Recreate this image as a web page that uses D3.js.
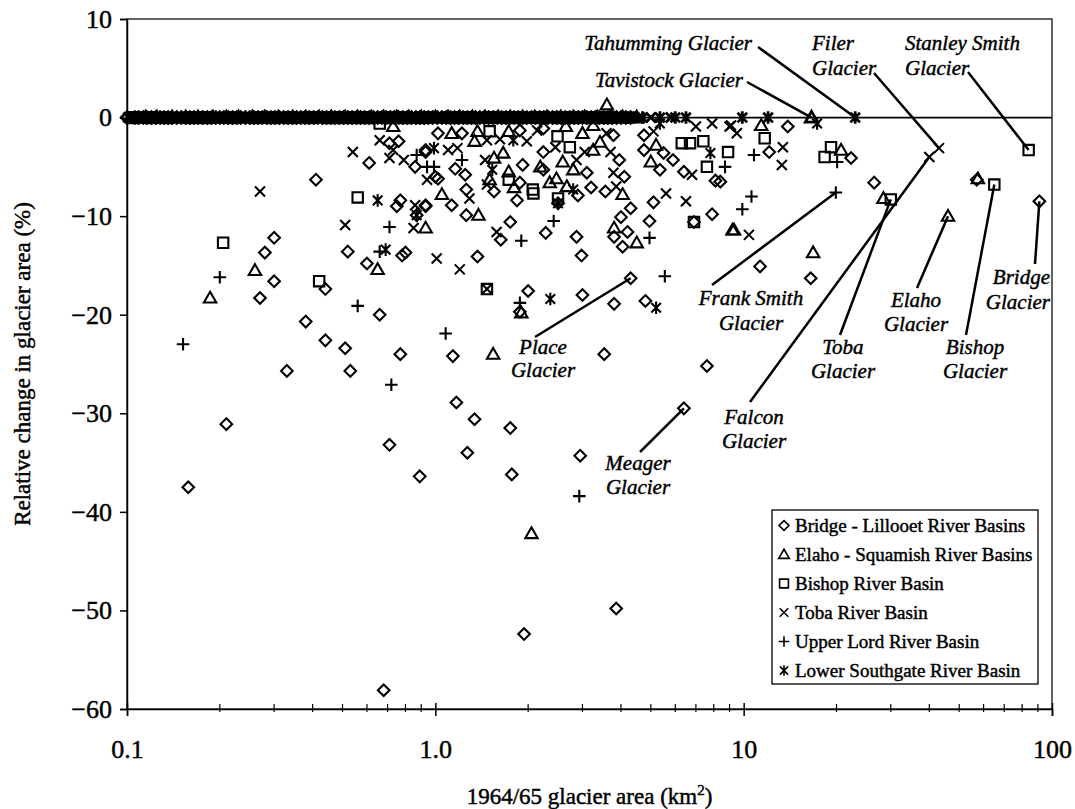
<!DOCTYPE html>
<html><head><meta charset="utf-8">
<script src="https://cdn.jsdelivr.net/npm/d3@7"></script>
<style>body{margin:0;background:#fff}</style>
</head><body>
<svg id="c" width="1075" height="809"></svg>
<script>
// ---------- DATA ----------
const xTicks = [0.1, 1, 10, 100];
const xTickLabels = ["0.1", "1.0", "10", "100"];
const xMinorTicks = [0.2,0.3,0.4,0.5,0.6,0.7,0.8,0.9,2,3,4,5,6,7,8,9,20,30,40,50,60,70,80,90];
const yTicks = [10, 0, -10, -20, -30, -40, -50, -60];
const seriesNames = ["Bridge - Lillooet River Basins","Elaho - Squamish River Basins","Bishop River Basin","Toba River Basin","Upper Lord River Basin","Lower Southgate River Basin"];

// glaciers with no change (area km2, 0 %)
const bridgeZero = [0.1,0.106,0.113,0.12,0.128,0.136,0.145,0.155,0.165,0.176,0.188,0.2,0.213,0.227,0.242,0.258,0.275,0.293,0.312,0.333,0.355,0.378,0.403,0.43,0.458,0.488,0.52,0.555,0.59,0.63,0.67,0.715,0.76,0.81,0.865,0.92,0.98,1.05,1.12,1.19,1.27,1.35,1.44,1.54,1.64,1.75,1.86,1.98,2.11,2.25,2.4,2.56,2.73,2.91,3.1,3.3,3.52,3.75,4.0,4.3,
  0.109,0.116,0.124,0.132,0.14,0.15,0.16,0.17,0.182,0.194,0.206,0.22,0.234,0.25,0.266,0.284,0.302,0.322,0.344,0.366,0.39,0.416,0.444,0.472,0.504,0.537,0.572,0.61,0.65,0.692,0.737,0.785,0.837,0.892,0.95,1.015,1.085,1.155,1.23,1.31,1.395,1.49,1.59,1.695,1.8,1.92,2.05,2.18,2.32,2.48,2.64,2.82,3.0,3.2,3.4,3.63,3.87,4.15];
const elahoZero = [0.115,0.14,0.17,0.21,0.255,0.31,0.38,0.46,0.56,0.68,0.82,1.0,1.2,1.45,1.75,2.1,2.55,3.05,3.7,4.5,16.6,
  0.125,0.155,0.19,0.23,0.28,0.345,0.42,0.51,0.62,0.75,0.9,1.1,1.32,1.6,1.92,2.3,2.8,3.35,4.05];
const bishopZero = [0.12,0.18,0.26,0.39,0.54,0.8,1.15,1.7,2.5,3.6,
  0.105,0.135,0.16,0.22,0.3,0.34,0.45,0.49,0.6,0.7,0.9,1.3,1.5,1.9,2.2,2.8,3.2];
const tobaZero = [0.108,0.121,0.138,0.152,0.168,0.185,0.204,0.224,0.246,0.27,0.297,0.327,0.36,0.395,0.435,0.478,0.526,0.578,0.636,0.7,0.77,0.845,0.93,1.02,1.12,1.23,1.36,1.5,1.65,1.81,1.99,2.19,2.41,2.65,2.92,3.2,3.52,3.9,4.6,5.0,5.8,
  0.101,0.114,0.129,0.145,0.16,0.176,0.194,0.214,0.235,0.258,0.283,0.311,0.343,0.377,0.415,0.456,0.502,0.552,0.607,0.667,0.734,0.807,0.887,0.975,1.07,1.18,1.29,1.42,1.57,1.72,1.9,2.08,2.29,2.52,2.78,3.06,3.36,3.7,4.07];
const lordZero = [0.13,0.16,0.19,0.23,0.28,0.34,0.41,0.5,0.6,0.73,0.88,1.07,1.3,1.58,1.92,2.33,2.85,3.45,4.2,
  0.111,0.145,0.175,0.21,0.255,0.31,0.375,0.455,0.55,0.66,0.8,0.97,1.18,1.43,1.74,2.1,2.58,3.1,3.8];
const southgateZero = [0.103,0.11,0.117,0.124,0.132,0.141,0.15,0.16,0.17,0.181,0.193,0.206,0.22,0.234,0.25,0.266,0.284,0.302,0.322,0.343,0.366,0.39,0.415,0.443,0.472,0.503,0.536,0.571,0.608,0.648,0.69,0.736,0.784,0.835,0.89,0.95,1.01,1.08,1.15,1.22,1.3,1.39,1.48,1.58,1.68,1.79,1.91,2.03,2.17,2.31,2.46,2.62,2.8,2.98,3.18,3.39,3.6,3.85,4.1,4.4,4.7,5.35,6.0,6.5,9.9,12.0,23.0];

// glaciers with change [area km2, relative change %]
const bridge = [[0.71,-2.6],[0.76,-2.4],[0.61,-4.6],[0.86,-5.0],[0.93,-3.5],[1.0,-6.0],[0.41,-6.3],[0.77,-8.4],[0.75,-9.0],[0.93,-9.0],[0.87,-9.9],[0.30,-12.2],[0.28,-13.7],[0.52,-13.6],[0.78,-14.0],[0.80,-13.7],[0.60,-14.8],[0.30,-16.6],[0.44,-17.4],[0.27,-18.3],
 [0.66,-20.0],[0.38,-20.7],[0.44,-22.6],[0.51,-23.4],[0.77,-24.0],[0.33,-25.7],[0.53,-25.7],[0.21,-31.1],[0.71,-33.2],[0.158,-37.5],[0.89,-36.4],[0.68,-58.1],[3.86,-49.8],[1.94,-52.4],
 [1.88,-19.7],[3.0,-18.0],[3.8,-18.9],[4.8,-18.6],[1.14,-24.2],[3.53,-24.0],[7.6,-25.2],[1.17,-28.9],[1.34,-30.6],[1.75,-31.5],[6.4,-29.5],[1.27,-34.0],[1.77,-36.2],[2.95,-34.3],[4.3,-16.3],
 [1.02,-1.6],[1.22,-1.6],[1.88,-1.3],[2.24,-1.1],[3.78,-1.8],[4.75,-1.8],[4.75,-3.3],[5.35,-5.3],[5.9,-4.3],[5.5,-3.6],[6.4,-5.5],[5.1,-8.6],[7.9,-9.8],[6.9,-10.6],[4.95,-10.5],[4.3,-9.2],[4.0,-10.1],[4.2,-11.6],[3.8,-12.1],[4.05,-13.1],[3.95,-4.3],[4.1,-6.0],[3.56,-7.5],[3.2,-7.1],[2.87,-12.1],[2.98,-14.0],[2.9,-7.9],[2.5,-8.7],[2.28,-11.7],[3.1,-5.6],[2.24,-5.3],[1.92,-4.8],[1.84,-8.4],[1.88,-6.6],[1.75,-10.6],[1.63,-12.4],[1.55,-7.5],[1.37,-14.1],[1.26,-9.9],[1.26,-7.3],[1.13,-8.9],[1.16,-5.2],[1.25,-5.8],[1.02,-6.2],[0.93,-8.9],[0.93,-3.3],[2.24,-3.5],[2.0,-17.6],[8.1,-6.4],
 [26.5,-6.6],[16.5,-16.3],[11.3,-15.1],[22.3,-4.1],[13.9,-0.9],[12.1,-3.5],[8.4,-6.5],[57,-6.3],[91,-8.5]];
const elaho = [[0.73,-0.9],[0.93,-11.2],[0.65,-15.4],[0.26,-15.5],[0.186,-18.3],[1.90,-19.8],[1.54,-24.0],[2.05,-42.2],[3.6,1.3],[1.13,-1.6],[1.37,-1.4],[1.73,-1.4],[2.65,-0.9],[3.0,-1.6],[3.25,-0.8],[3.42,-2.5],[5.2,-2.8],[5.0,-4.5],[9.3,-11.4],[4.5,-12.7],[3.8,-11.2],[4.05,-7.8],[2.67,-7.0],[2.35,-6.6],[2.47,-6.2],[2.8,-5.3],[2.59,-4.5],[3.25,-3.3],[2.19,-5.0],[1.73,-5.5],[1.8,-7.1],[1.5,-6.3],[1.55,-4.1],[1.66,-3.6],[1.38,-9.9],[1.05,-7.8],[1.34,-2.4],[28.4,-8.2],[16.8,-13.7],[9.2,-11.4],[20.7,-3.3],[11.4,-0.8],[46,-10.0],[57.5,-6.2]];
const bishop = [[0.66,-0.6],[0.56,-8.1],[0.205,-12.7],[0.42,-16.6],[1.47,-17.4],[1.5,-1.4],[2.49,-1.9],[6.3,-2.6],[6.7,-2.6],[7.4,-2.4],[8.9,-3.5],[7.6,-5.0],[6.9,-10.6],[2.07,-7.3],[2.08,-7.7],[1.73,-6.3],[2.5,-8.2],[2.73,-3.0],[19.2,-3.0],[18.3,-4.0],[11.7,-2.1],[30,-8.3],[65,-6.8],[84,-3.3]];
const toba = [[0.54,-3.5],[0.66,-2.3],[0.73,-3.3],[0.71,-4.1],[0.79,-4.3],[0.94,-6.3],[0.27,-7.5],[0.86,-8.9],[0.51,-10.9],[0.85,-11.2],[1.01,-14.3],[1.47,-17.4],[2.14,-1.3],[3.59,-1.6],[5.1,-1.4],[7.0,-0.9],[7.9,-0.6],[9.0,-0.9],[6.8,-5.8],[5.6,-7.7],[6.5,-8.5],[3.78,-5.6],[3.86,-7.0],[2.87,-4.3],[3.05,-3.5],[3.7,-3.5],[1.58,-11.6],[1.47,-6.8],[1.45,-4.3],[1.29,-8.2],[1.20,-15.4],[1.18,-3.1],[1.1,-3.3],[1.47,-2.3],[1.62,-2.2],[1.98,-2.4],[2.45,-3.0],[10.4,-11.9],[13.4,-3.0],[13.3,-4.8],[9.1,-0.8],[9.5,-1.6],[43,-3.1],[40,-4.0]];
const lord = [[0.87,-3.8],[0.94,-5.0],[0.71,-11.1],[0.66,-13.6],[0.20,-16.2],[0.56,-19.1],[0.152,-23.0],[0.72,-27.1],[1.88,-18.8],[1.08,-21.9],[2.93,-38.4],[2.42,-10.5],[4.95,-12.2],[8.7,-5.0],[0.99,-5.0],[1.22,-4.3],[5.55,-16.1],[19.9,-7.6],[20.1,-4.5],[10.8,-3.8],[10.6,-8.0],[9.9,-9.3],[1.9,-12.5]];
const southgate = [[0.99,-3.1],[0.65,-8.4],[0.69,-13.4],[2.36,-18.4],[5.2,-19.3],[7.8,-3.6],[5.35,-0.6],[2.8,-7.3],[2.5,-8.7],[1.53,-5.3],[1.79,-2.3],[17.3,-0.6],[0.87,-9.9]];

// named glaciers: lines of label, target point, label layout (px)
const annotations = [
  {lines:["Tahumming Glacier"], pt:[23.0,0], tx:752, ty:[43], anchor:"end", from:[758,47]},
  {lines:["Tavistock Glacier"], pt:[16.6,0], tx:743, ty:[80], anchor:"end", from:[747,82]},
  {lines:["Filer","Glacier"], pt:[43,-3.1], tx:812, ty:[43,68], anchor:"start", from:[874,73]},
  {lines:["Stanley Smith","Glacier"], pt:[84,-3.3], tx:905, ty:[43,68], anchor:"start", from:[968,72]},
  {lines:["Frank Smith","Glacier"], pt:[19.9,-7.6], tx:751, ty:[298,323], anchor:"middle", from:[712,285]},
  {lines:["Place","Glacier"], pt:[4.3,-16.3], tx:543, ty:[347,370], anchor:"middle", from:[535,337]},
  {lines:["Meager","Glacier"], pt:[6.4,-29.5], tx:638, ty:[463,487], anchor:"middle", from:[640,452]},
  {lines:["Falcon","Glacier"], pt:[40,-4.0], tx:754, ty:[417,441], anchor:"middle", from:[750,402]},
  {lines:["Toba","Glacier"], pt:[30,-8.3], tx:843, ty:[347,371], anchor:"middle", from:[840,335]},
  {lines:["Elaho","Glacier"], pt:[46,-10.0], tx:916, ty:[300,324], anchor:"middle", from:[917,288]},
  {lines:["Bishop","Glacier"], pt:[65,-6.8], tx:975, ty:[347,371], anchor:"middle", from:[966,335]},
  {lines:["Bridge","Glacier"], pt:[91,-8.5], tx:1050, ty:[277,302], anchor:"end", from:[1035,264]}
];

// ---------- CHART ----------
const svg = d3.select("#c");
const L = 127, R = 1052, T = 19, B = 709;
const x = d3.scaleLog().domain([0.1, 100]).range([L, R]);
const y = d3.scaleLinear().domain([-60, 10]).range([B, T]);
const serif = "'Liberation Serif','Times New Roman',serif";
const inkText = sel => sel.attr("stroke", "#000").attr("stroke-width", 0.45).attr("fill", "#000");

const sym = {
  diamond: "M0,-5.8L5.8,0L0,5.8L-5.8,0Z",
  triangle: "M0,-6.2L6.2,4.6L-6.2,4.6Z",
  square: "M-5.2,-5.2H5.2V5.2H-5.2Z",
  cross: "M-5,-5L5,5M-5,5L5,-5",
  plus: "M-6.3,0H6.3M0,-6.3V6.3",
  aster: "M-4.8,-4.8L4.8,4.8M-4.8,4.8L4.8,-4.8M0,-6.3V6.3"
};
const seriesSym = ["diamond","triangle","square","cross","plus","aster"];

// frame
svg.append("rect").attr("x", L).attr("y", T).attr("width", R - L).attr("height", B - T)
  .attr("fill", "none").attr("stroke", "#111").attr("stroke-width", 1.3);

// zero line
svg.append("line").attr("x1", L).attr("x2", R).attr("y1", y(0)).attr("y2", y(0))
  .attr("stroke", "#000").attr("stroke-width", 1.8);

// axes
const yAxis = d3.axisLeft(y).tickValues(yTicks).tickSize(7).tickPadding(8)
  .tickFormat(d => d < 0 ? "\u2212" + Math.abs(d) : d);
const gy = svg.append("g").attr("transform", `translate(${L},0)`).call(yAxis);
gy.select(".domain").attr("stroke", "#000").attr("stroke-width", 1.5);
gy.selectAll(".tick line").attr("stroke", "#000").attr("stroke-width", 1.5);
gy.selectAll(".tick text").attr("font-family", serif).attr("font-size", 26).call(inkText);

const xAxis = d3.axisBottom(x).tickValues(xTicks).tickSize(7).tickPadding(24)
  .tickFormat((d, i) => xTickLabels[i]);
const gx = svg.append("g").attr("transform", `translate(0,${B})`).call(xAxis);
gx.select(".domain").attr("stroke", "#000").attr("stroke-width", 1.5);
gx.selectAll(".tick line").attr("stroke", "#000").attr("stroke-width", 1.5).attr("y1", -6);
gx.selectAll(".tick text").attr("font-family", serif).attr("font-size", 26).call(inkText);
svg.append("g").selectAll("line").data(xMinorTicks).join("line")
  .attr("x1", d => x(d)).attr("x2", d => x(d)).attr("y1", B - 5).attr("y2", B + 3)
  .attr("stroke", "#000").attr("stroke-width", 1.2);

// axis titles
svg.append("text").attr("transform", `translate(30,${(T + B) / 2}) rotate(-90)`)
  .attr("text-anchor", "middle").attr("font-family", serif).attr("font-size", 23)
  .call(inkText).text("Relative change in glacier area (%)");
const xt = svg.append("text").attr("x", (L + R) / 2).attr("y", 804).attr("text-anchor", "middle")
  .attr("font-family", serif).attr("font-size", 23).call(inkText);
xt.append("tspan").text("1964/65 glacier area (km");
xt.append("tspan").attr("font-size", 15).attr("dy", -9).text("2");
xt.append("tspan").attr("dy", 9).text(")");

// points
const zeroSets = [bridgeZero, elahoZero, bishopZero, tobaZero, lordZero, southgateZero];
const sets = [bridge, elaho, bishop, toba, lord, southgate];
const gz = svg.append("g").attr("fill", "none").attr("stroke", "#000").attr("stroke-width", 2.8);
zeroSets.forEach((arr, i) => {
  gz.append("g").selectAll("path").data(arr).join("path")
    .attr("d", sym[seriesSym[i]])
    .attr("transform", d => `translate(${x(d)},${y(0)})`);
});
const gp = svg.append("g").attr("fill", "none").attr("stroke", "#000").attr("stroke-width", 2.1);
sets.forEach((arr, i) => {
  gp.append("g").selectAll("path").data(arr).join("path")
    .attr("d", sym[seriesSym[i]])
    .attr("transform", d => `translate(${x(d[0])},${y(d[1])})`);
});

// annotations
const ga = svg.append("g");
annotations.forEach(a => {
  ga.append("line").attr("x1", a.from[0]).attr("y1", a.from[1])
    .attr("x2", x(a.pt[0])).attr("y2", y(a.pt[1]))
    .attr("stroke", "#000").attr("stroke-width", 2.5);
  a.lines.forEach((t, j) => {
    ga.append("text").attr("x", a.tx).attr("y", a.ty[j] + 7)
      .attr("text-anchor", a.anchor).attr("font-family", serif)
      .attr("font-style", "italic").attr("font-size", 21).call(inkText).text(t);
  });
});

// legend
const lg = svg.append("g");
lg.append("rect").attr("x", 772).attr("y", 510).attr("width", 266).attr("height", 174)
  .attr("fill", "#fff").attr("stroke", "#000").attr("stroke-width", 1.3);
seriesNames.forEach((n, i) => {
  const yy = 525.5 + i * 29;
  lg.append("path").attr("d", sym[seriesSym[i]])
    .attr("transform", `translate(784,${yy}) scale(0.85)`)
    .attr("fill", "none").attr("stroke", "#000").attr("stroke-width", 1.9);
  lg.append("text").attr("x", 795).attr("y", yy + 6.5).attr("font-family", serif)
    .attr("font-size", 19).call(inkText).text(n);
});
</script>
</body></html>
